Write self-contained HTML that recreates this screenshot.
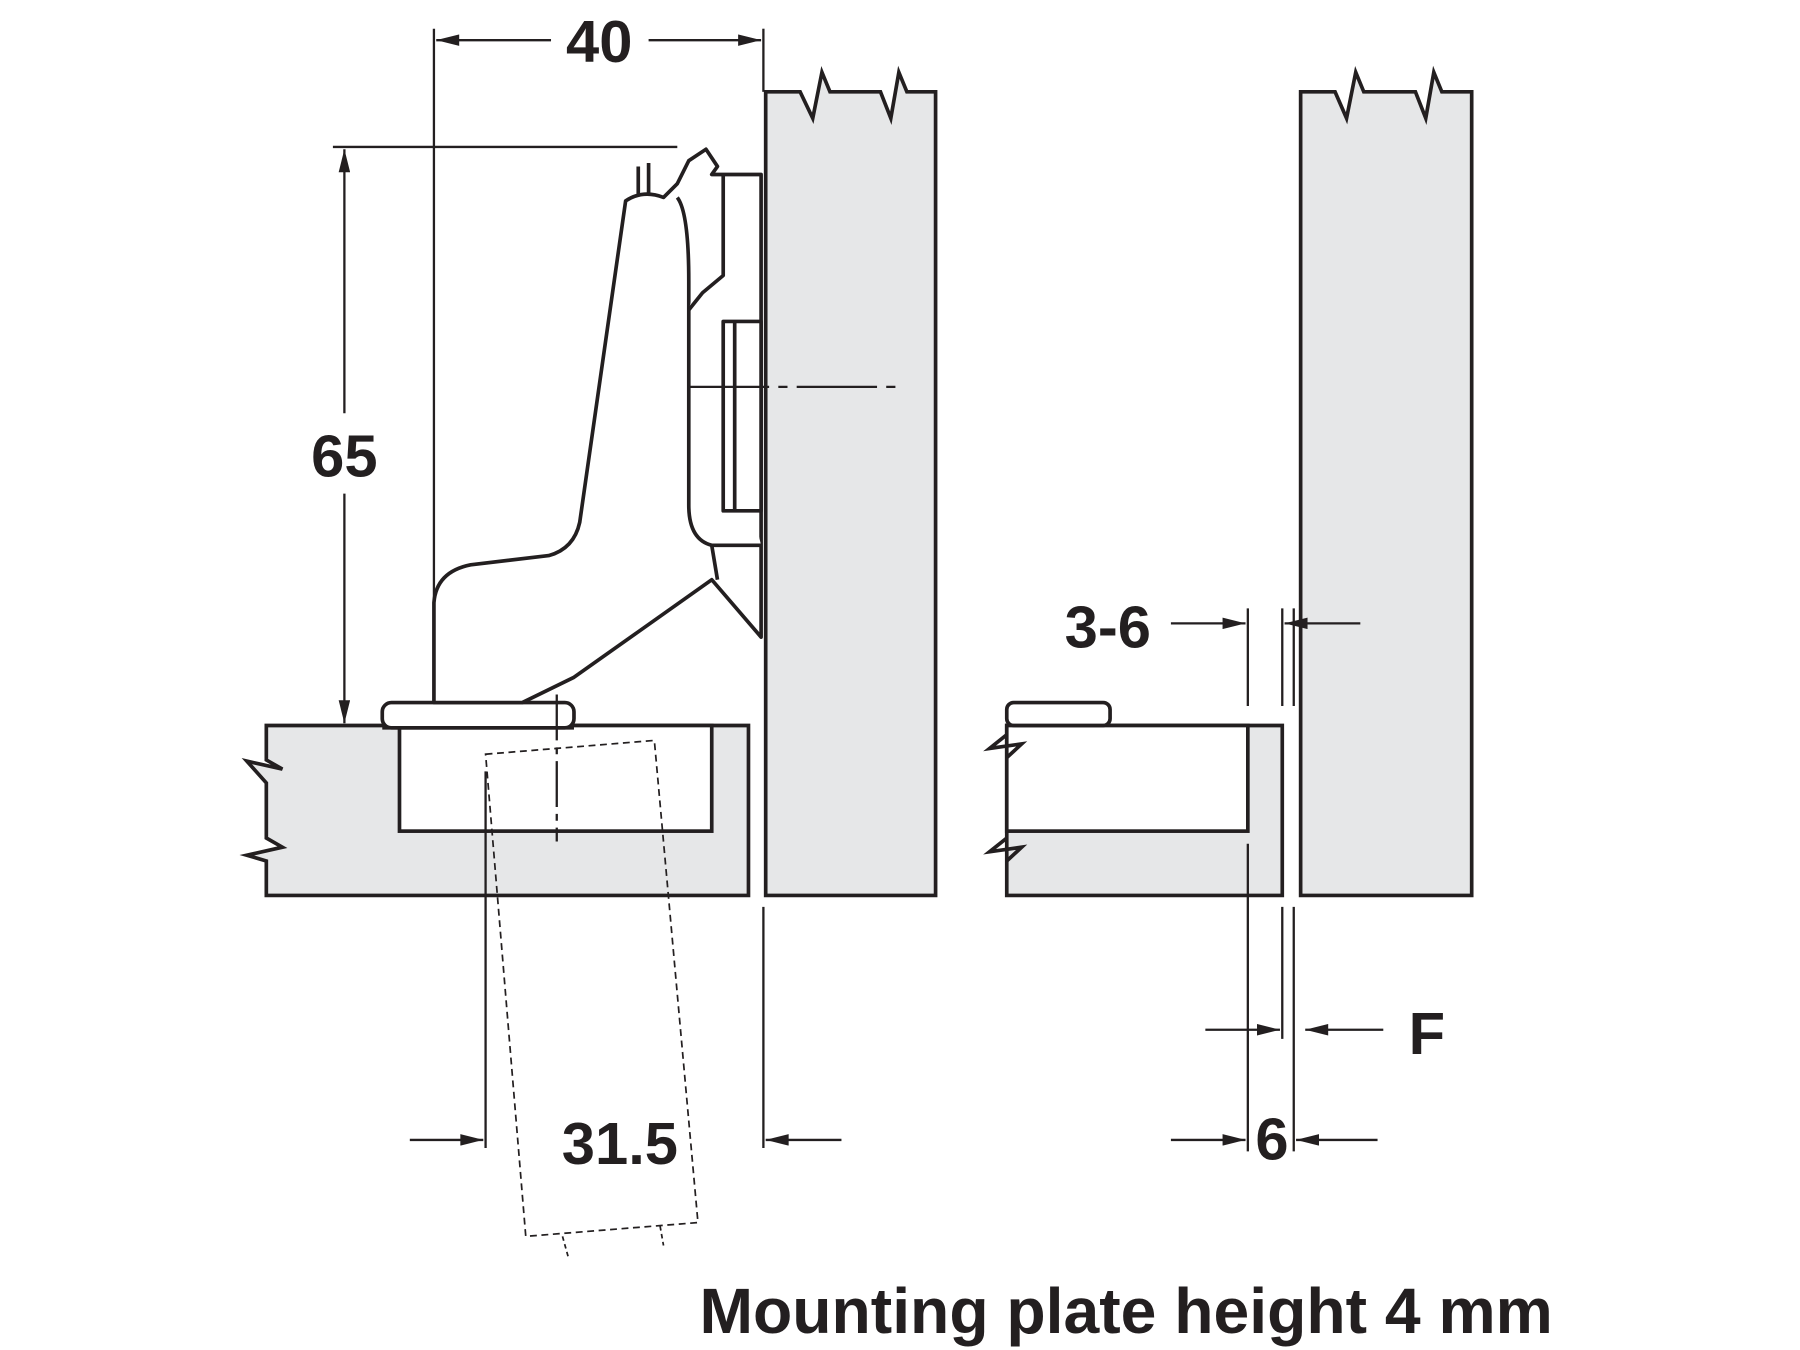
<!DOCTYPE html>
<html><head><meta charset="utf-8"><style>
html,body{margin:0;padding:0;background:#fff;}
svg{display:block}
text{font-family:"Liberation Sans",sans-serif;font-weight:bold;fill:#231f20}
</style></head><body>
<svg width="1800" height="1350" viewBox="0 0 1568 1176" xmlns="http://www.w3.org/2000/svg">
<defs>
<marker id="a" viewBox="0 0 20 10" refX="20" refY="5" markerWidth="24" markerHeight="10" markerUnits="userSpaceOnUse" orient="auto"><path d="M0,0 L20,5 L0,10 z" fill="#231f20"/></marker>
</defs>
<g stroke="#231f20" stroke-width="3.2" fill="#e6e7e8" stroke-linejoin="miter">
<path d="M232,632 L652,632 L652,780 L232,780 L232,750 L215,745 L246,738 L232,730 L232,682 L215,663 L246,670 L232,662 Z"/>
<rect x="348" y="632" width="272" height="92" fill="#fff"/>
<rect x="333" y="612" width="167" height="22" rx="8" fill="#fff"/>
<path d="M667,780 L667,80 L697,80 L708,103 L716,63 L723,80 L767,80 L776,103 L783,63 L790,80 L815,80 L815,780 Z"/>
<path d="M877,780 L877,632 L1117,632 L1117,780 Z"/>
<rect x="877" y="632" width="210" height="92" fill="#fff"/>
<path d="M877,640 L862,652 L890,648 L877,660 M877,730 L862,742 L890,738 L877,750" fill="none"/>
<rect x="877" y="612" width="90" height="20" rx="6" fill="#fff"/>
<path d="M1133,780 L1133,80 L1163,80 L1173,103 L1181,63 L1188,80 L1233,80 L1242,103 L1249,63 L1256,80 L1282,80 L1282,780 Z"/>
</g>
<g stroke="#231f20" stroke-width="3.2" fill="#fff" stroke-linejoin="round">
<path d="M378,612 L378,525 Q380,498 410,492 L478,484 Q500,478 505,455 L545,175 Q560,165 578,172 L590,160 L600,140 L615,130 L625,145 L620,152 L663,152 L663,555 L620,505 L500,590 L455,612 Z"/>
<path d="M590,172 Q600,185 600,245 L600,440 Q600,470 620,475 L663,475"/>
<path d="M630,152 L630,240 L612,255 L600,270"/>
<path d="M630,280 L663,280 L663,445 L630,445 Z"/>
<path d="M640,280 L640,445"/>
<path d="M620,475 L625,505"/>
<path d="M556,145 L556,170 M565,142 L565,168"/>
<path d="M333,634 L500,634"/>
</g>
<g stroke="#231f20" stroke-width="2" fill="none">
<line x1="378" y1="25" x2="378" y2="612"/>
<line x1="665" y1="25" x2="665" y2="80"/>
<line x1="480" y1="35" x2="380" y2="35" marker-end="url(#a)"/>
<line x1="565" y1="35" x2="663" y2="35" marker-end="url(#a)"/>
<line x1="290" y1="128" x2="590" y2="128"/>
<line x1="300" y1="360" x2="300" y2="130" marker-end="url(#a)"/>
<line x1="300" y1="430" x2="300" y2="630" marker-end="url(#a)"/>
<line x1="485" y1="605" x2="485" y2="733" stroke-dasharray="40,6,6,6"/>
<line x1="600" y1="337" x2="785" y2="337" stroke-dasharray="70,8,8,8"/>
<path d="M423,657 L570,645 L608,1065 L458,1077 Z" stroke-dasharray="6,4" stroke-width="1.5"/>
<path d="M490,1077 L495,1095 M575,1068 L578,1085" stroke-dasharray="4,3" stroke-width="1.5"/>
<line x1="423" y1="672" x2="423" y2="1000"/>
<line x1="665" y1="790" x2="665" y2="1000"/>
<line x1="357" y1="993" x2="421" y2="993" marker-end="url(#a)"/>
<line x1="733" y1="993" x2="667" y2="993" marker-end="url(#a)"/>
<line x1="1087" y1="530" x2="1087" y2="615"/>
<line x1="1087" y1="735" x2="1087" y2="1003"/>
<line x1="1117" y1="530" x2="1117" y2="615"/>
<line x1="1117" y1="790" x2="1117" y2="905"/>
<line x1="1127" y1="530" x2="1127" y2="615"/>
<line x1="1127" y1="790" x2="1127" y2="1003"/>
<line x1="1020" y1="543" x2="1085" y2="543" marker-end="url(#a)"/>
<line x1="1185" y1="543" x2="1119" y2="543" marker-end="url(#a)"/>
<line x1="1050" y1="897" x2="1115" y2="897" marker-end="url(#a)"/>
<line x1="1205" y1="897" x2="1137" y2="897" marker-end="url(#a)"/>
<line x1="1020" y1="993" x2="1085" y2="993" marker-end="url(#a)"/>
<line x1="1200" y1="993" x2="1129" y2="993" marker-end="url(#a)"/>
</g>
<text x="522" y="54" font-size="52" text-anchor="middle">40</text>
<text x="300" y="415" font-size="52" text-anchor="middle">65</text>
<text x="540" y="1014" font-size="52" text-anchor="middle">31.5</text>
<text x="965" y="564" font-size="52" text-anchor="middle">3-6</text>
<text x="1243" y="918" font-size="52" text-anchor="middle">F</text>
<text x="1108" y="1010" font-size="52" text-anchor="middle">6</text>
<text x="981" y="1161" font-size="56" text-anchor="middle">Mounting plate height 4 mm</text>
</svg>
</body></html>
